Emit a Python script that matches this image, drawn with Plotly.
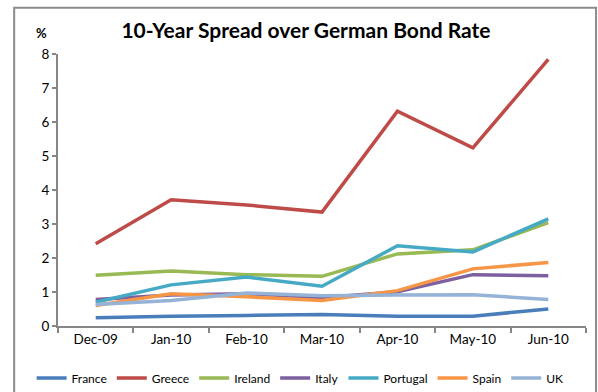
import plotly.graph_objects as go

# Monthly 10-year spread over the German Bund, percentage points
months = ["Dec-09", "Jan-10", "Feb-10", "Mar-10", "Apr-10", "May-10", "Jun-10"]

france = [0.24, 0.29, 0.31, 0.34, 0.29, 0.29, 0.50]
greece = [2.42, 3.71, 3.56, 3.35, 6.32, 5.24, 7.84]
ireland = [1.49, 1.62, 1.51, 1.46, 2.12, 2.24, 3.04]
italy = [0.78, 0.91, 0.95, 0.83, 1.01, 1.51, 1.48]
portugal = [0.70, 1.21, 1.44, 1.17, 2.36, 2.18, 3.15]
spain = [0.60, 0.95, 0.86, 0.75, 1.04, 1.68, 1.87]
uk = [0.63, 0.75, 0.97, 0.89, 0.91, 0.92, 0.78]

series = [
    ("France", france, "#4A7EBB"),
    ("Greece", greece, "#BE4B48"),
    ("Ireland", ireland, "#98B954"),
    ("Italy", italy, "#7D60A0"),
    ("Portugal", portugal, "#46AAC5"),
    ("Spain", spain, "#F79646"),
    ("UK", uk, "#95B3D7"),
]

FONT = "Lato, 'Open Sans', sans-serif"
AXIS_GREY = "#868686"

fig = go.Figure()
for name, values, color in series:
    fig.add_trace(go.Scatter(
        x=months, y=values, name=name, mode="lines",
        line=dict(color=color, width=3.5),
    ))

# chart frame around the whole figure
fig.add_shape(
    type="rect", xref="paper", yref="paper",
    x0=-0.083, x1=1.019, y0=-0.4, y1=1.17,
    line=dict(color="#8C8C8C", width=2), fillcolor="rgba(0,0,0,0)",
    layer="below",
)

fig.update_layout(
    width=598, height=392,
    margin=dict(l=58, r=12, t=54, b=66, autoexpand=False),
    paper_bgcolor="white", plot_bgcolor="white",
    font=dict(family=FONT, size=12, color="#000000"),
    title=dict(
        text="<b>10-Year Spread over German Bond Rate</b>",
        x=(306 - 58) / 528, xref="paper", xanchor="center",
        y=1 - 31 / 392, yref="container", yanchor="middle",
        font=dict(family=FONT, size=21, color="#000000"),
    ),
    showlegend=True,
    legend=dict(
        orientation="h", x=-0.05, xanchor="left",
        y=-(378 - 326) / 272, yanchor="middle",
        font=dict(family=FONT, size=12, color="#000000"),
        itemwidth=30, tracegroupgap=0,
        bgcolor="rgba(0,0,0,0)",
    ),
    annotations=[
        dict(text="<b>%</b>", xref="paper", yref="paper",
             x=-(58 - 41) / 528, y=(326 - 33) / 272,
             xanchor="center", yanchor="middle", showarrow=False,
             font=dict(family=FONT, size=13, color="#000000")),
    ],
)

fig.update_xaxes(
    type="category", range=[-0.5, 6.5],
    showline=True, linecolor=AXIS_GREY, linewidth=2,
    ticks="outside", tickson="boundaries", ticklen=5,
    tickcolor=AXIS_GREY, tickwidth=2,
    showgrid=False, zeroline=False,
    tickfont=dict(family=FONT, size=13.5, color="#000000"),
)
fig.update_yaxes(
    range=[0, 8], dtick=1, tick0=0,
    showline=True, linecolor=AXIS_GREY, linewidth=2,
    ticks="outside", ticklen=4, tickcolor=AXIS_GREY, tickwidth=2,
    showgrid=False, zeroline=False,
    tickfont=dict(family=FONT, size=13.5, color="#000000"),
)

fig.write_html("out.html")
